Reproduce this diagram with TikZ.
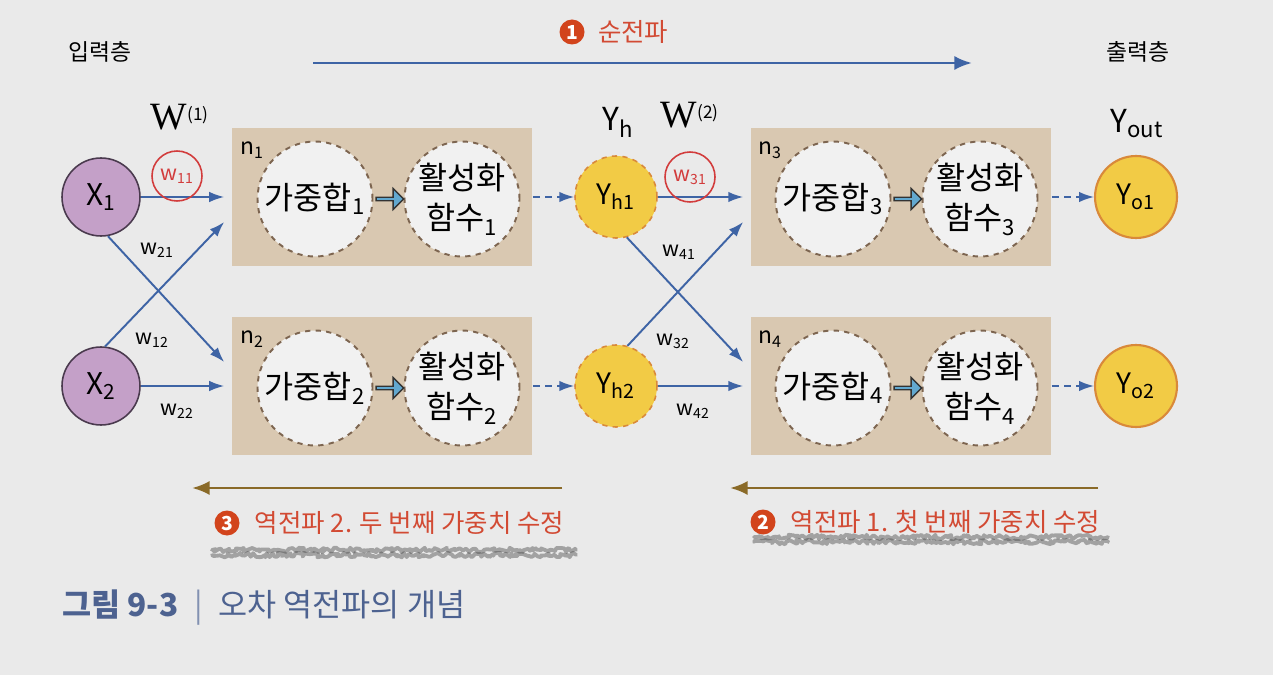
\documentclass[tikz,border=0pt]{standalone}
\usepackage{fontspec}
\setmainfont{Noto Sans CJK KR}
\newfontfamily\wfont{Liberation Serif}
\usetikzlibrary{positioning,shapes.arrows,arrows.meta,decorations.pathmorphing}
\definecolor{bgc}{HTML}{EAEAEA}
\definecolor{boxtan}{HTML}{D9C8B1}
\definecolor{innerfill}{HTML}{F1F1F1}
\definecolor{innerdash}{HTML}{7D6550}
\definecolor{inpur}{HTML}{C4A0C8}
\definecolor{inbd}{HTML}{4A3A4E}
\definecolor{yel}{HTML}{F2CB45}
\definecolor{yelbd}{HTML}{D9893A}
\definecolor{connblue}{HTML}{3E64A5}
\definecolor{wred}{HTML}{D23C3C}
\definecolor{numred}{HTML}{D2441C}
\definecolor{labred}{HTML}{D24A33}
\definecolor{backbrown}{HTML}{8A6A28}
\definecolor{capc}{HTML}{4D6290}
\definecolor{blockblue}{HTML}{62A8CF}
\begin{document}
\begin{tikzpicture}[x=0.02cm,y=-0.02cm,
  inputn/.style={circle,draw=inbd,fill=inpur,line width=0.9pt,minimum size=1.56cm,inner sep=0pt,font=\fontsize{17}{17}\selectfont},
  hiddenn/.style={circle,draw=yelbd,fill=yel,dashed,line width=0.9pt,minimum size=1.64cm,inner sep=0pt,font=\fontsize{16}{16}\selectfont},
  outn/.style={circle,draw=yelbd,fill=yel,line width=1.2pt,minimum size=1.64cm,inner sep=0pt,font=\fontsize{16}{16}\selectfont},
  boxn/.style={rectangle,fill=boxtan,minimum width=6.02cm,minimum height=2.78cm,inner sep=0pt},
  innern/.style={circle,draw=innerdash,fill=innerfill,dashed,line width=1.1pt,minimum size=2.3cm,inner sep=0pt,align=center,font=\fontsize{18}{23}\selectfont},
  blockarrow/.style={single arrow,draw=black!80,fill=blockblue,line width=0.8pt,minimum height=0.55cm,minimum width=0.42cm,single arrow head extend=2pt,inner sep=0pt},
  wcirc/.style={circle,draw=wred,text=wred,line width=0.9pt,minimum size=1.0cm,inner sep=0pt,font=\fontsize{12}{12}\selectfont},
  wlab/.style={font=\fontsize{12}{12}\selectfont},
  nlab/.style={font=\fontsize{13}{13}\selectfont},
  layerlab/.style={font=\fontsize{13}{13}\selectfont},
  wbig/.style={font=\fontsize{22}{22}\selectfont},
  numdot/.style={circle,fill=numred,text=white,minimum size=0.5cm,inner sep=0pt,font=\bfseries\fontsize{11}{11}\selectfont},
  redlab/.style={text=labred,font=\fontsize{14.5}{14.5}\selectfont},
  conn/.style={draw=connblue,line width=1.1pt,-{Latex[length=8.5pt,width=6pt]}},
  dconn/.style={conn,dash pattern=on 4pt off 3pt},
  fwarrow/.style={draw=connblue,line width=1.6pt,-{Latex[length=10pt,width=8pt]}},
  bwarrow/.style={draw=backbrown,line width=1.6pt,-{Latex[length=10pt,width=8pt]}},
  scribble/.style={draw=black!70,line width=2.2pt,opacity=0.45,line join=round,line cap=round,decorate,decoration={random steps,segment length=1.2pt,amplitude=1.3pt}}]
\fill[bgc] (0,0) rectangle (1273,675);
% layer labels and forward pass
\node[layerlab] (inlay) at (100,52) {입력층};
\node[layerlab] (outlay) at (1138,52) {출력층};
\node[numdot] (c1) at (572,32) {1};
\node[redlab,right=4pt of c1] (t1) {순전파};
\coordinate (fwS) at (313,63);
\coordinate (fwE) at (972,63);
\draw[fwarrow] (fwS) -- (fwE);
% weight matrix and layer names
\node[wbig] (W1) at (180,117) {{\wfont W}{\fontsize{14}{14}\selectfont\textsuperscript{(1)}}};
\node[wbig] (W2) at (690,115) {{\wfont W}{\fontsize{14}{14}\selectfont\textsuperscript{(2)}}};
\node[font=\fontsize{18}{18}\selectfont] (Yh) at (618,122) {Y\textsubscript{h}};
\node[font=\fontsize{18}{18}\selectfont] (Yout) at (1137,124) {Y\textsubscript{out}};
% boxes
\node[boxn] (n1) at (382,197) {};
\node[boxn] (n2) at (382,386) {};
\node[boxn] (n3) at (901,197) {};
\node[boxn] (n4) at (901,386) {};
\node[nlab] (n1l) at (252,150) {n\textsubscript{1}};
\node[nlab] (n2l) at (252,339) {n\textsubscript{2}};
\node[nlab] (n3l) at (770,150) {n\textsubscript{3}};
\node[nlab] (n4l) at (770,339) {n\textsubscript{4}};
\node[innern] (s1) at (315,199) {가중합\textsubscript{1}};
\node[innern] (a1) at (462,199) {활성화\\함수\textsubscript{1}};
\node[innern] (s2) at (315,388) {가중합\textsubscript{2}};
\node[innern] (a2) at (462,388) {활성화\\함수\textsubscript{2}};
\node[innern] (s3) at (833,199) {가중합\textsubscript{3}};
\node[innern] (a3) at (980,199) {활성화\\함수\textsubscript{3}};
\node[innern] (s4) at (833,388) {가중합\textsubscript{4}};
\node[innern] (a4) at (980,388) {활성화\\함수\textsubscript{4}};
\node[blockarrow] (b1) at (389,199) {};
\node[blockarrow] (b2) at (389,388) {};
\node[blockarrow] (b3) at (907,199) {};
\node[blockarrow] (b4) at (907,388) {};
% neurons
\node[inputn] (x1) at (101,197) {X\textsubscript{1}};
\node[inputn] (x2) at (101,386) {X\textsubscript{2}};
\node[hiddenn] (yh1) at (616,197) {Y\textsubscript{h1}};
\node[hiddenn] (yh2) at (616,386) {Y\textsubscript{h2}};
\node[outn] (yo1) at (1136,197) {Y\textsubscript{o1}};
\node[outn] (yo2) at (1136,386) {Y\textsubscript{o2}};
% entry points of the boxes
\coordinate (n1in) at ([xshift=-0.14cm]n1.west);
\coordinate (n1up) at ([xshift=-0.14cm,yshift=-0.5cm]n1.west);
\coordinate (n2in) at ([xshift=-0.14cm]n2.west);
\coordinate (n2up) at ([xshift=-0.14cm,yshift=0.48cm]n2.west);
\coordinate (n3in) at ([xshift=-0.14cm]n3.west);
\coordinate (n3up) at ([xshift=-0.14cm,yshift=-0.5cm]n3.west);
\coordinate (n4in) at ([xshift=-0.14cm]n4.west);
\coordinate (n4up) at ([xshift=-0.14cm,yshift=0.48cm]n4.west);
% connections
\draw[conn] (x1) -- (n1in);
\draw[conn] (x1.-80) -- (n2up);
\draw[conn] (x2.84) -- (n1up);
\draw[conn] (x2) -- (n2in);
\draw[conn] (yh1) -- (n3in);
\draw[conn] (yh1.-75) -- (n4up);
\draw[conn] (yh2.74) -- (n3up);
\draw[conn] (yh2) -- (n4in);
\draw[dconn] (n1.east) -- (yh1);
\draw[dconn] (n2.east) -- (yh2);
\draw[dconn] (n3.east) -- (yo1);
\draw[dconn] (n4.east) -- (yo2);
% weights
\node[wcirc] (w11) at (177,176) {w\textsubscript{11}};
\node[wcirc] (w31) at (690,177) {w\textsubscript{31}};
\node[wlab] (w21) at (157,250) {w\textsubscript{21}};
\node[wlab] (w12) at (152,340) {w\textsubscript{12}};
\node[wlab] (w22) at (177,411) {w\textsubscript{22}};
\node[wlab] (w41) at (679,252) {w\textsubscript{41}};
\node[wlab] (w32) at (673,341) {w\textsubscript{32}};
\node[wlab] (w42) at (693,411) {w\textsubscript{42}};
% back propagation
\coordinate (bw1S) at (562,488);
\coordinate (bw1E) at (192,488);
\draw[bwarrow] (bw1S) -- (bw1E);
\coordinate (bw2S) at (1098,488);
\coordinate (bw2E) at (730,488);
\draw[bwarrow] (bw2S) -- (bw2E);
\node[numdot] (c3) at (227,523) {3};
\node[redlab,right=5pt of c3] (t3) {역전파 2. 두 번째 가중치 수정};
\node[numdot] (c2) at (763,522) {2};
\node[redlab,right=5pt of c2] (t2) {역전파 1. 첫 번째 가중치 수정};
\draw[scribble] (212,550) -- (576,550);
\draw[scribble] (212,555) -- (576,555);
\draw[scribble] (754,537) -- (1108,537);
\draw[scribble] (754,542) -- (1108,542);
% caption
\node[anchor=west,text=capc,font=\fontsize{18}{18}\selectfont] (cap) at (56,608) {\textbf{그림 9-3}\enspace{\color{capc!70}|}\enspace 오차 역전파의 개념};
\end{tikzpicture}
\end{document}
